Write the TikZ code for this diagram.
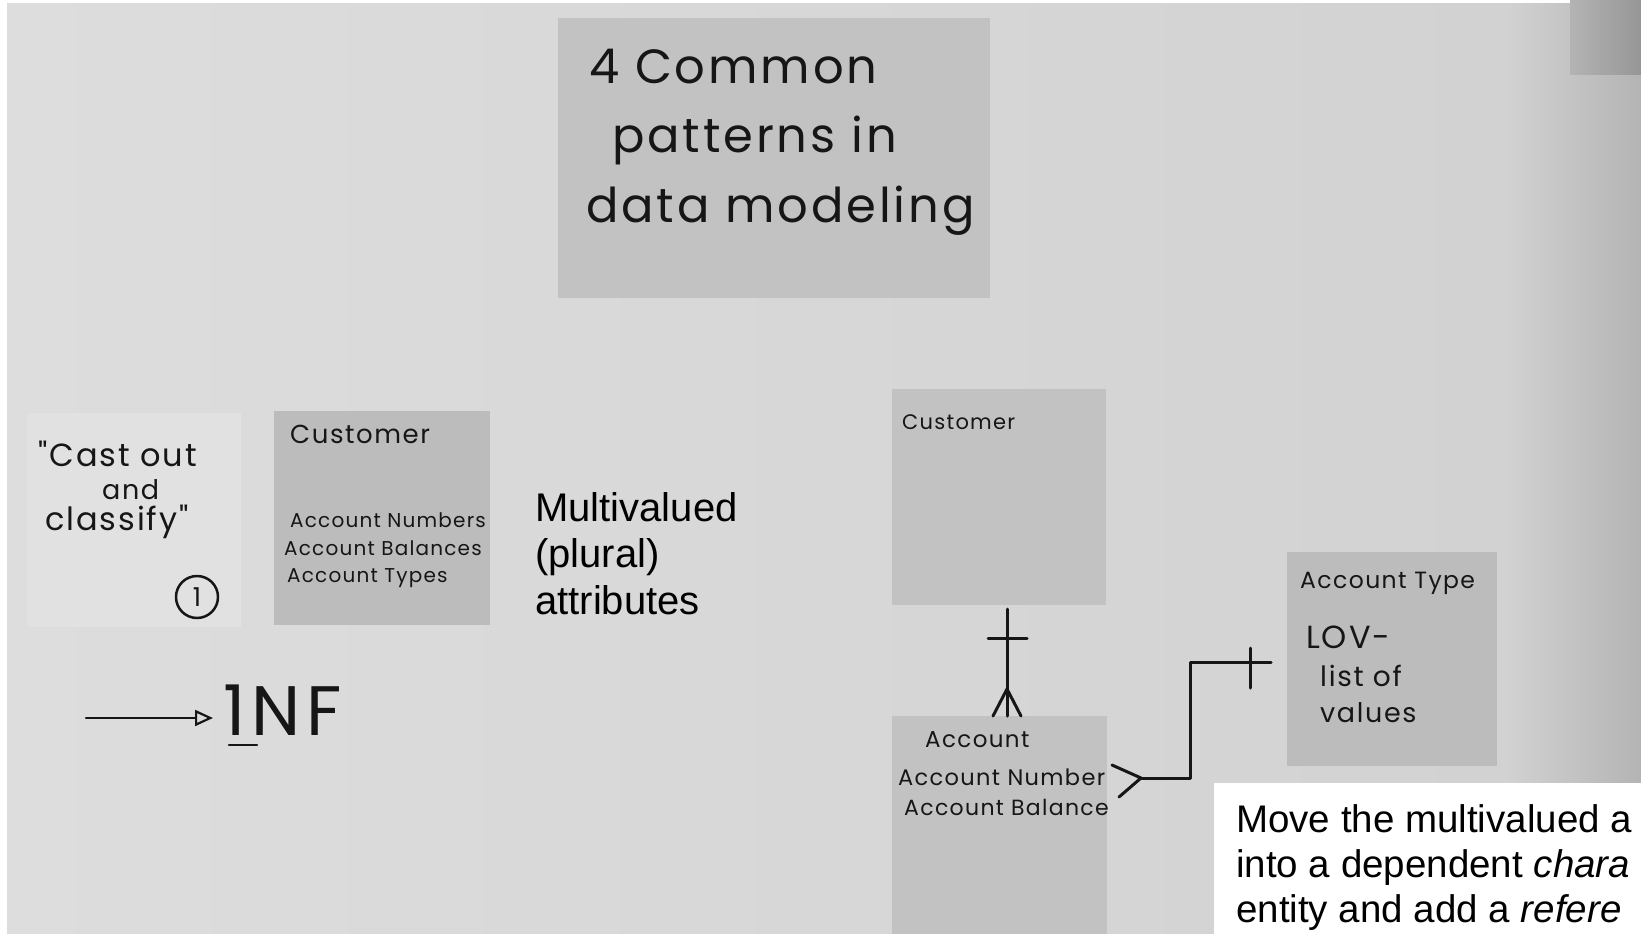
\documentclass[tikz,border=0pt]{standalone}
\usepackage{fontspec}
\setmainfont{Liberation Sans}
\newfontfamily\handfont[LetterSpace=6]{Poppins}
\usetikzlibrary{arrows.meta,calc}
\definecolor{ink}{RGB}{22,22,22}
\definecolor{wallA}{RGB}{221,221,221}
\definecolor{wallB}{RGB}{210,210,210}
\definecolor{wallC}{RGB}{180,180,180}
\definecolor{wallD}{RGB}{150,150,150}
\definecolor{noteA}{RGB}{194,194,194}
\definecolor{noteB}{RGB}{225,225,225}
\definecolor{noteC}{RGB}{188,188,188}
\begin{document}
\begin{tikzpicture}[x=1pt,y=-1pt,line cap=round,line join=round,
  note/.style={anchor=north west,inner sep=0pt,outer sep=0pt},
  hw/.style={anchor=base west,inner sep=0pt,text=ink,font=\handfont\fontsize{#1}{#1}\selectfont},
  typed/.style={anchor=north west,inner sep=0pt,align=left,text=black},
  link/.style={draw=ink,line width=3pt}]
\useasboundingbox (0,0) rectangle (1641,934);
% background wall
\fill[white] (0,0) rectangle (1641,934);
\shade[left color=wallA,right color=wallB] (7,4) rectangle (1505,934);
\shade[left color=wallB,right color=wallC] (1505,4) rectangle (1641,934);
\shade[left color=wallC,right color=wallD] (1570,0) rectangle (1641,75);
\fill[white] (1214,783) rectangle (1641,934);

% sticky notes
\node[note,fill=noteA,minimum width=432pt,minimum height=280pt] (title) at (558,18) {};
\node[note,fill=noteB,minimum width=214pt,minimum height=214pt] (cast) at (27,413) {};
\node[note,fill=noteC,minimum width=216pt,minimum height=214pt] (custL) at (274,411) {};
\node[note,fill=noteA,minimum width=214pt,minimum height=216pt] (custR) at (892,389) {};
\node[note,fill=noteA,minimum width=215pt,minimum height=218pt] (acct) at (892,716) {};
\node[note,fill=noteC,minimum width=210pt,minimum height=214pt] (acctT) at (1287,552) {};

% title note
\node[hw=48] (t1) at (589,84) {4 Common};
\node[hw=48] (t2) at (612,152) {patterns in};
\node[hw=48] (t3) at (586,222) {data modeling};

% cast out note
\node[hw=32] (c1) at (38,466) {"Cast out};
\node[hw=27] (c2) at (102,499) {and};
\node[hw=32] (c3) at (45,530) {classify"};
\node[circle,draw=ink,line width=2.5pt,minimum size=42pt,inner sep=0pt,text=ink,
      font=\handfont\fontsize{26}{26}\selectfont] (one) at (197,597) {1};

% customer (left)
\node[hw=26] (cl0) at (290,443) {Customer};
\node[hw=20] (cl1) at (290,527) {Account Numbers};
\node[hw=20] (cl2) at (284,555) {Account Balances};
\node[hw=20] (cl3) at (287,582) {Account Types};

% typed label
\node[typed,font=\fontsize{40}{46.5}\selectfont] (mv) at (535,492) {Multivalued\\(plural)\\attributes};

% 1NF
\coordinate (arrS) at (86,718);
\node[hw=70] (nf) at (223,735) {1\hspace{6pt}N\hspace{6pt}F};
\draw[ink,line width=2.5pt] ($(nf.south west)+(6,10)$) -- ++(28,0);
\draw[ink,line width=2.2pt,shorten >=10pt,
      -{Triangle[open,length=18pt,width=16pt,line width=2.2pt]}] (arrS) -- (arrS -| nf.west);

% customer (right) and account
\node[hw=21] (cr0) at (902,429) {Customer};
\node[hw=23] (a0) at (925,747) {Account};
\node[hw=22.5] (a1) at (898,785) {Account Number};
\node[hw=22] (a2) at (904,815) {Account Balance};

% account type
\node[hw=23.5] (at0) at (1300,588) {Account Type};
\node[hw=32] (at1) at (1306,648) {LOV-};
\node[hw=28] (at2) at (1320,686) {list of};
\node[hw=27] (at3) at (1320,722) {values};

% relationship customer -- account
\coordinate (rx) at (1007,0);
\draw[link,shorten <=4pt] (custR.south -| rx) -- (acct.north -| rx);
\draw[link] (988,638) -- (1027,638);
\draw[link] (993,716) -- (1007,689) -- (1021,716);

% relationship account -- account type
\coordinate (J) at (1141,778);
\coordinate (hy) at (0,662);
\draw[link] (1112,765) -- (J) -- (1119,797);
\draw[link,shorten >=16pt] (J) -- (1190,778) -- (1190,662) -- (acctT.west |- hy);
\draw[link] (1250,648) -- (1250,688);

% caption
\node[typed,font=\fontsize{38.5}{45}\selectfont] (move) at (1236,804)
  {Move the multivalued a\\into a dependent \textit{chara}\\entity and add a \textit{refere}};
\end{tikzpicture}
\end{document}
